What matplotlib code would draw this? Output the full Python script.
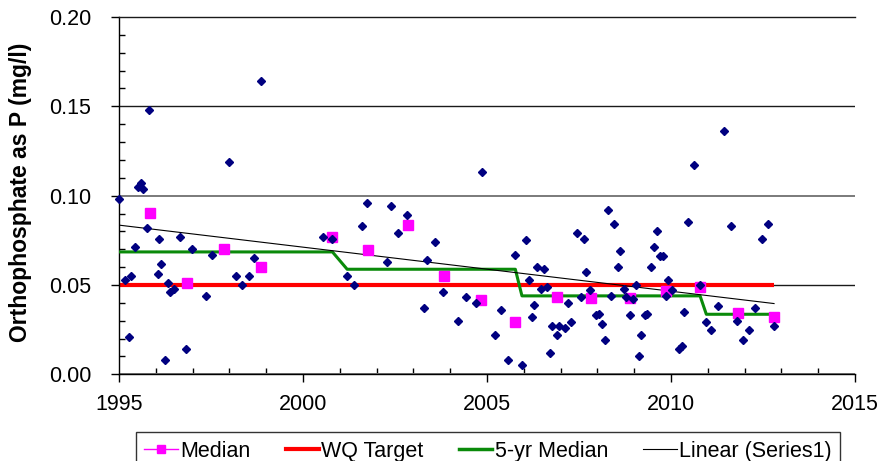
import matplotlib
matplotlib.use("Agg")
import matplotlib.pyplot as plt
from matplotlib.lines import Line2D
from matplotlib.ticker import MultipleLocator, FormatStrFormatter

plt.rcParams['font.family'] = ['Liberation Sans', 'DejaVu Sans']

# ---- data ----
sample_x = [1995.01, 1995.16, 1995.26, 1995.33, 1995.43, 1995.52, 1995.59, 1995.66, 1995.75, 1995.82,
            1996.05, 1996.08, 1996.14, 1996.24, 1996.32, 1996.39, 1996.49, 1996.66, 1996.83, 1996.99,
            1997.36, 1997.52, 1997.99, 1998.17, 1998.35, 1998.53, 1998.67, 1998.85,
            2000.54, 2000.78, 2001.19, 2001.39, 2001.61, 2001.73, 2002.28, 2002.38, 2002.58, 2002.83,
            2003.30, 2003.38, 2003.59, 2003.80, 2004.21, 2004.43, 2004.71, 2004.86,
            2005.21, 2005.39, 2005.58, 2005.75, 2005.94, 2006.05, 2006.13, 2006.22, 2006.29, 2006.36,
            2006.47, 2006.54, 2006.63, 2006.70, 2006.77, 2006.89, 2006.97, 2007.13, 2007.19, 2007.29,
            2007.45, 2007.56, 2007.63, 2007.70, 2007.79, 2007.97, 2008.03, 2008.13, 2008.20, 2008.30,
            2008.38, 2008.44, 2008.55, 2008.62, 2008.71, 2008.78, 2008.89, 2008.98, 2009.04, 2009.14,
            2009.18, 2009.29, 2009.36, 2009.45, 2009.53, 2009.61, 2009.71, 2009.77, 2009.86, 2009.92,
            2010.02, 2010.21, 2010.29, 2010.36, 2010.45, 2010.62, 2010.78, 2010.95, 2011.10, 2011.27,
            2011.45, 2011.63, 2011.80, 2011.96, 2012.12, 2012.28, 2012.46, 2012.63, 2012.79]
sample_y = [0.098, 0.053, 0.021, 0.055, 0.071, 0.105, 0.107, 0.104, 0.082, 0.148,
            0.056, 0.076, 0.062, 0.008, 0.051, 0.046, 0.048, 0.077, 0.014, 0.070,
            0.044, 0.067, 0.119, 0.055, 0.050, 0.055, 0.065, 0.164,
            0.077, 0.076, 0.055, 0.050, 0.083, 0.096, 0.063, 0.094, 0.079, 0.089,
            0.037, 0.064, 0.074, 0.046, 0.030, 0.043, 0.040, 0.113,
            0.022, 0.036, 0.008, 0.067, 0.005, 0.075, 0.053, 0.032, 0.039, 0.060,
            0.048, 0.059, 0.049, 0.012, 0.027, 0.022, 0.027, 0.026, 0.040, 0.029,
            0.079, 0.043, 0.076, 0.057, 0.047, 0.033, 0.034, 0.028, 0.019, 0.092,
            0.044, 0.084, 0.060, 0.069, 0.048, 0.043, 0.033, 0.042, 0.050, 0.010,
            0.022, 0.033, 0.034, 0.060, 0.071, 0.080, 0.066, 0.066, 0.044, 0.053,
            0.047, 0.014, 0.016, 0.035, 0.085, 0.117, 0.050, 0.029, 0.025, 0.038,
            0.136, 0.083, 0.030, 0.019, 0.025, 0.037, 0.076, 0.084, 0.027]

median_x = [1995.84, 1996.86, 1997.85, 1998.87, 2000.80, 2001.76, 2002.85, 2003.82, 2004.84,
            2005.77, 2006.90, 2007.83, 2008.89, 2009.86, 2010.79, 2011.82, 2012.80]
median_y = [0.0902, 0.0510, 0.0702, 0.0600, 0.0768, 0.0693, 0.0838, 0.0552, 0.0414,
            0.0291, 0.0435, 0.0427, 0.0427, 0.0468, 0.0487, 0.0342, 0.0321]

target_x = [1995.0, 2012.8]
target_y = [0.05, 0.05]

median5_x = [1995.0, 2000.80, 2001.20, 2005.77, 2005.95, 2010.79, 2010.96, 2012.80]
median5_y = [0.0685, 0.0685, 0.0588, 0.0588, 0.0439, 0.0439, 0.0336, 0.0336]

trend_x = [1995.0, 2012.8]
trend_y = [0.0835, 0.0396]

labels = ["Median", "WQ Target", "5-yr Median", "Linear (Series1)"]
y_label = "Orthophosphate as P (mg/l)"

# ---- figure ----
fig = plt.figure(figsize=(8.86, 4.61), dpi=100)
ax = fig.add_axes([119 / 886, 1 - 374.3 / 461, 736 / 886, 357.3 / 461])

ax.set_xlim(1995, 2015)
ax.set_ylim(0, 0.20)

ax.xaxis.set_major_locator(MultipleLocator(5))
ax.xaxis.set_minor_locator(MultipleLocator(1))
ax.yaxis.set_major_locator(MultipleLocator(0.05))
ax.yaxis.set_minor_locator(MultipleLocator(0.01))
ax.yaxis.set_major_formatter(FormatStrFormatter('%.2f'))

ax.grid(axis='y', which='major', color='#7a7a7a', linewidth=1.4, zorder=0)
ax.set_axisbelow(True)
for i, gl in enumerate(ax.get_ygridlines()):
    if i % 2 == 0:
        gl.set_color('#1a1a1a')
        gl.set_linewidth(1.0)

ax.spines['right'].set_visible(False)
ax.spines['top'].set_color('#1a1a1a')
ax.spines['top'].set_linewidth(1.0)
for s in ['left', 'bottom']:
    ax.spines[s].set_color('black')
    ax.spines[s].set_linewidth(1.0)

ax.tick_params(axis='both', which='major', direction='out', length=6, width=1, colors='black',
               labelsize=15.5)
ax.tick_params(axis='y', which='major', pad=14)
ax.tick_params(axis='x', which='major', pad=8)
ax.tick_params(axis='both', which='minor', direction='in', length=4, width=1, colors='black')

# lines
ax.plot(target_x, target_y, color='#ff0000', linewidth=3.0, solid_capstyle='butt', zorder=2)
ax.plot(median5_x, median5_y, color='#0a8a0a', linewidth=2.2, zorder=3)
ax.plot(trend_x, trend_y, color='black', linewidth=0.8, zorder=3)

# markers
ax.plot(median_x, median_y, linestyle='none', marker='s', markersize=7,
        color='#ff00ff', zorder=4, clip_on=False)
ax.plot(sample_x, sample_y, linestyle='none', marker='D', markersize=4.5,
        color='#000080', zorder=5, clip_on=False)

fig.text(21 / 886, 1 - 192 / 461, y_label, rotation=90, ha='center', va='center',
         fontsize=16.5, fontweight='bold')

handles = [
    Line2D([], [], color='#ff00ff', marker='s', markersize=6, linewidth=1.0),
    Line2D([], [], color='#ff0000', linewidth=3.0),
    Line2D([], [], color='#0a8a0a', linewidth=2.5),
    Line2D([], [], color='black', linewidth=0.8),
]
leg = fig.legend(handles, labels, loc='upper center', bbox_to_anchor=(488 / 886, 1 - 432 / 461),
                 ncol=4, frameon=True, fancybox=False, edgecolor='black', fontsize=15.5,
                 handlelength=1.55, handletextpad=0.1, columnspacing=1.65, borderpad=0.4,
                 borderaxespad=0.0, numpoints=1)
leg.get_frame().set_linewidth(1.0)

fig.savefig("out.png", dpi=100)
